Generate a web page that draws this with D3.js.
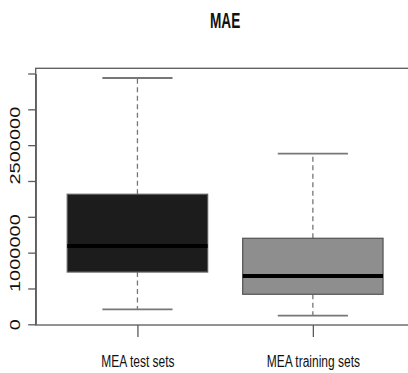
<!DOCTYPE html>
<html>
<head>
<meta charset="utf-8">
<script src="https://cdn.jsdelivr.net/npm/d3@7"></script>
<style>
  html, body { margin: 0; padding: 0; background: #fff; }
  svg { display: block; }
  text { font-family: "Liberation Sans", Arial, Helvetica, sans-serif; }
</style>
</head>
<body>
<svg id="chart" width="408" height="373"></svg>
<script>
// Box-plot summaries of mean absolute error for the two data splits
const categories  = ["MEA test sets", "MEA training sets"];
const whiskerLow  = [209000, 120000];
const quartile1   = [730000, 419000];
const medians     = [1093000, 674000];
const quartile3   = [1814000, 1200000];
const whiskerHigh = [3437000, 2381000];

// Axis ticks; only some of the tick marks carry a printed label
const yTicks       = [0, 500000, 1000000, 1500000, 2000000, 2500000, 3000000, 3500000];
const yTickLabels  = [0, 1000000, 2500000];
const titleText    = "MAE";

const boxFills = ["#1c1c1c", "#8e8e8e"];
const lineColor = "#5a5a5a";

const svg = d3.select("#chart");

const plot = { left: 35.7, right: 414.6, top: 68.3, bottom: 325 };

const x = d3.scalePoint()
  .domain(categories)
  .range([plot.left, plot.right])
  .padding(0.58);

const y = d3.scaleLinear()
  .domain([0, 3500000])
  .range([324.3, 73.5]);

const step = x.step();
const boxW = step * 0.8;
const capW = step * 0.4;

const rows = categories.map((c, i) => ({
  cat: c, lo: whiskerLow[i], q1: quartile1[i], med: medians[i],
  q3: quartile3[i], hi: whiskerHigh[i], fill: boxFills[i]
}));

const g = svg.append("g");

// whiskers (dashed) and caps
g.selectAll(".whisker-up").data(rows).join("line")
  .attr("x1", d => x(d.cat)).attr("x2", d => x(d.cat))
  .attr("y1", d => y(d.q3)).attr("y2", d => y(d.hi))
  .attr("stroke", "#777").attr("stroke-width", 1.3)
  .attr("stroke-dasharray", "5,3.5");
g.selectAll(".whisker-down").data(rows).join("line")
  .attr("x1", d => x(d.cat)).attr("x2", d => x(d.cat))
  .attr("y1", d => y(d.q1)).attr("y2", d => y(d.lo))
  .attr("stroke", "#777").attr("stroke-width", 1.3)
  .attr("stroke-dasharray", "5,3.5");
g.selectAll(".cap-hi").data(rows).join("line")
  .attr("x1", d => x(d.cat) - capW / 2).attr("x2", d => x(d.cat) + capW / 2)
  .attr("y1", d => y(d.hi)).attr("y2", d => y(d.hi))
  .attr("stroke", "#777").attr("stroke-width", 1.8);
g.selectAll(".cap-lo").data(rows).join("line")
  .attr("x1", d => x(d.cat) - capW / 2).attr("x2", d => x(d.cat) + capW / 2)
  .attr("y1", d => y(d.lo)).attr("y2", d => y(d.lo))
  .attr("stroke", "#777").attr("stroke-width", 1.8);

// boxes
g.selectAll(".box").data(rows).join("rect")
  .attr("x", d => x(d.cat) - boxW / 2)
  .attr("width", boxW)
  .attr("y", d => y(d.q3))
  .attr("height", d => y(d.q1) - y(d.q3))
  .attr("fill", d => d.fill)
  .attr("stroke", lineColor).attr("stroke-width", 1.3);

// medians
g.selectAll(".median").data(rows).join("line")
  .attr("x1", d => x(d.cat) - boxW / 2).attr("x2", d => x(d.cat) + boxW / 2)
  .attr("y1", d => y(d.med)).attr("y2", d => y(d.med))
  .attr("stroke", "#000").attr("stroke-width", 4);

// plot frame
svg.append("rect")
  .attr("x", plot.left).attr("y", plot.top)
  .attr("width", plot.right - plot.left).attr("height", plot.bottom - plot.top)
  .attr("fill", "none").attr("stroke", lineColor).attr("stroke-width", 1.3);

// y axis
const labelSet = new Set(yTickLabels);
const yAxis = svg.append("g")
  .attr("transform", `translate(${plot.left},0)`)
  .call(d3.axisLeft(y)
    .tickValues(yTicks)
    .tickSize(7.5)
    .tickSizeOuter(0)
    .tickFormat(d => labelSet.has(d) ? d3.format("d")(d) : ""));
yAxis.selectAll("path, line").attr("stroke", lineColor).attr("stroke-width", 1.3);
yAxis.selectAll("text")
  .attr("x", null).attr("dy", null)
  .attr("text-anchor", "middle")
  .attr("transform", "translate(-16.2,0) rotate(-90) scale(1,0.7)")
  .attr("font-size", 20)
  .attr("fill", "#111");

// x axis
const xAxis = svg.append("g")
  .attr("transform", `translate(0,${plot.bottom})`)
  .call(d3.axisBottom(x).tickSize(12).tickSizeOuter(0));
xAxis.select(".domain").remove();
xAxis.selectAll("line").attr("stroke", lineColor).attr("stroke-width", 1.3);
xAxis.selectAll("text")
  .attr("y", 42).attr("dy", null)
  .attr("transform", "scale(0.75,1)")
  .attr("font-size", 16)
  .attr("fill", "#111");

// title
svg.append("text")
  .attr("transform", `translate(${(plot.left + plot.right) / 2},28) scale(0.62,1)`)
  .attr("text-anchor", "middle")
  .attr("font-size", 22)
  .attr("font-weight", "bold")
  .attr("fill", "#111")
  .text(titleText);
</script>
</body>
</html>
